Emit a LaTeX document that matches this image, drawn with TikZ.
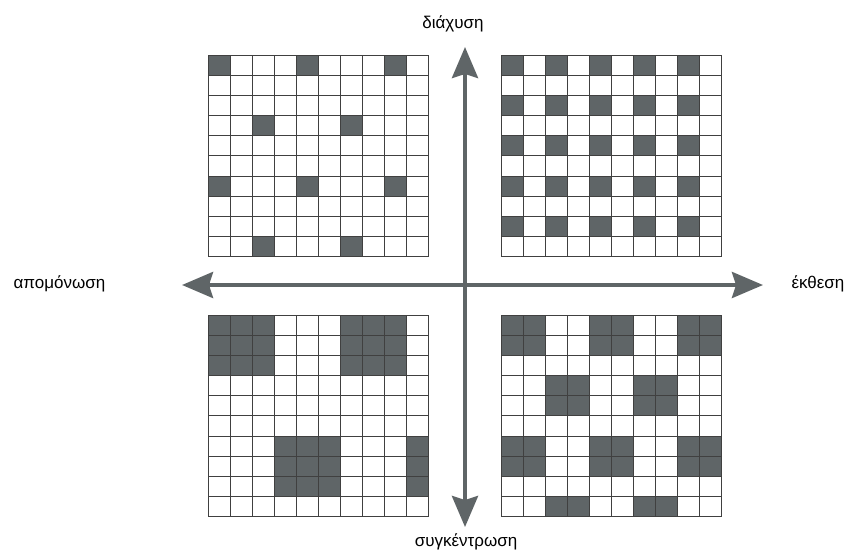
\documentclass[tikz,border=0pt]{standalone}
\usepackage{fontspec}
\setmainfont{Liberation Sans}
\usetikzlibrary{arrows.meta}

\definecolor{cellgray}{HTML}{5F6567}

% the 10x10 lattice of one quadrant
\newcommand{\latticelines}{%
  \foreach \i in {0,...,10} {
    \draw[cellline] (\i,0) -- (\i,10);
    \draw[cellline] (0,\i) -- (10,\i);
  }}

\begin{document}
\begin{tikzpicture}[x=1pt,y=-1pt,
    cellline/.style={draw=black!75, line width=0.8pt},
    cell/.style={fill=cellgray},
    axis/.style={draw=cellgray, line width=4pt,
      {Stealth[length=31pt,width=26pt,inset=4pt]}-{Stealth[length=31pt,width=26pt,inset=4pt]}},
    lbl/.style={font=\fontsize{17}{20}\selectfont, anchor=base}]
  \useasboundingbox (0,0) rectangle (844,554);

  % diffusion (top left)
  \begin{scope}[shift={(208,55)}, x=22.05pt, y=-20.15pt]
    \foreach \c/\r in {0/0,4/0,8/0,2/3,6/3,0/6,4/6,8/6,2/9,6/9}
      \fill[cell] (\c,\r) rectangle ++(1,1);
    \latticelines
  \end{scope}

  % diffusion + exposure (top right)
  \begin{scope}[shift={(501,55)}, x=22.05pt, y=-20.15pt]
    \foreach \r in {0,2,4,6,8}
      \foreach \c in {0,2,4,6,8}
        \fill[cell] (\c,\r) rectangle ++(1,1);
    \latticelines
  \end{scope}

  % concentration (bottom left)
  \begin{scope}[shift={(208,315)}, x=22.05pt, y=-20.15pt]
    \fill[cell] (0,0) rectangle (3,3);
    \fill[cell] (6,0) rectangle (9,3);
    \fill[cell] (3,6) rectangle (6,9);
    \fill[cell] (9,6) rectangle (10,9);
    \latticelines
  \end{scope}

  % concentration + exposure (bottom right)
  \begin{scope}[shift={(501,315)}, x=22.05pt, y=-20.15pt]
    \foreach \c/\r in {0/0,4/0,8/0,2/3,6/3,0/6,4/6,8/6}
      \fill[cell] (\c,\r) rectangle ++(2,2);
    \foreach \c in {2,6}
      \fill[cell] (\c,9) rectangle ++(2,1);
    \latticelines
  \end{scope}

  % axes
  \coordinate (difftip) at (465,47);
  \coordinate (conctip) at (465,527);
  \coordinate (isoltip) at (182,285);
  \coordinate (expotip) at (763,285);
  \draw[axis] (conctip) -- (difftip);
  \draw[axis] (isoltip) -- (expotip);

  \node[lbl] (diff) at (453,28) {διάχυση};
  \node[lbl] (conc) at (466,546) {συγκέντρωση};
  \node[lbl, anchor=base west] (isol) at (10,288) {απομόνωση};
  \node[lbl, anchor=base west] (expo) at (788,288) {έκθεση};
\end{tikzpicture}
\end{document}
